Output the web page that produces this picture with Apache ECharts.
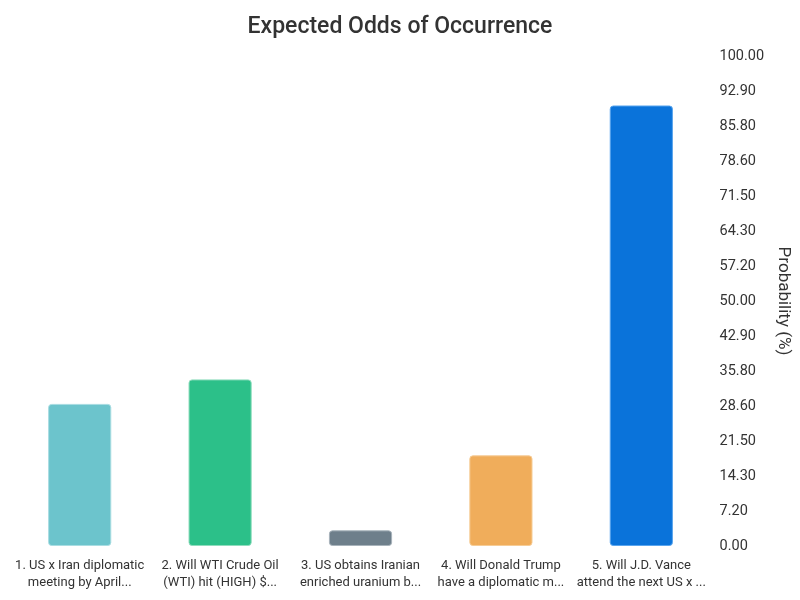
<!DOCTYPE html>
<html><head><meta charset="utf-8">
<script src="https://cdn.jsdelivr.net/npm/echarts@6/dist/echarts.min.js"></script>
<style>html,body{margin:0;padding:0;background:#fff}#c{width:800px;height:600px}</style>
</head><body><div id="c"></div>
<script>
const categories = [
  "1. US x Iran diplomatic\nmeeting by April...",
  "2. Will WTI Crude Oil\n(WTI) hit (HIGH) $...",
  "3. US obtains Iranian\nenriched uranium b...",
  "4. Will Donald Trump\nhave a diplomatic m...",
  "5. Will J.D. Vance\nattend the next US x ..."
];
const values = [29.0, 34.0, 3.2, 18.5, 89.9];
const colors = ["#6cc4cc", "#2cc089", "#6e7f8b", "#f0ad5b", "#0a73da"];
const borders = ["#a9dde2", "#8fdcbd", "#a8b3bb", "#f6cc96", "#5aa5ee"];
const tickLabels = ["0.00","7.20","14.30","21.50","28.60","35.80","42.90","50.00","57.20","64.30","71.50","78.60","85.80","92.90","100.00"];
const yMax = 100;
const step = yMax / (tickLabels.length - 1);

const chart = echarts.init(document.getElementById('c'));
chart.setOption({
  animation: false,
  textStyle: { fontFamily: 'Roboto' },
  title: { text: 'Expected Odds of Occurrence', left: 'center', top: 11,
    textStyle: { fontSize: 23, fontWeight: 500, color: '#333', fontFamily: 'Roboto' } },
  grid: { left: 9.5, right: 85.5, top: 56, bottom: 54, containLabel: false },
  xAxis: { type: 'category', data: categories,
    axisLine: { show: false }, axisTick: { show: false },
    axisLabel: { interval: 0, fontSize: 13, color: '#333', lineHeight: 17, margin: 11 } },
  yAxis: { type: 'value', position: 'right', min: 0, max: yMax, interval: step,
    splitLine: { show: false }, axisLine: { show: false }, axisTick: { show: false },
    axisLabel: { fontSize: 14.5, color: '#333', margin: 8,
      formatter: v => tickLabels[Math.round(v / step)] },
    name: 'Probability (%)', nameLocation: 'middle', nameRotate: -90, nameGap: 62,
    nameTextStyle: { fontSize: 17, color: '#333' } },
  series: [{ type: 'bar', barWidth: '45%',
    data: values.map((v, i) => ({ value: v, itemStyle: { color: colors[i], borderColor: borders[i], borderWidth: 1, borderRadius: 3 } })) }]
});
</script></body></html>
